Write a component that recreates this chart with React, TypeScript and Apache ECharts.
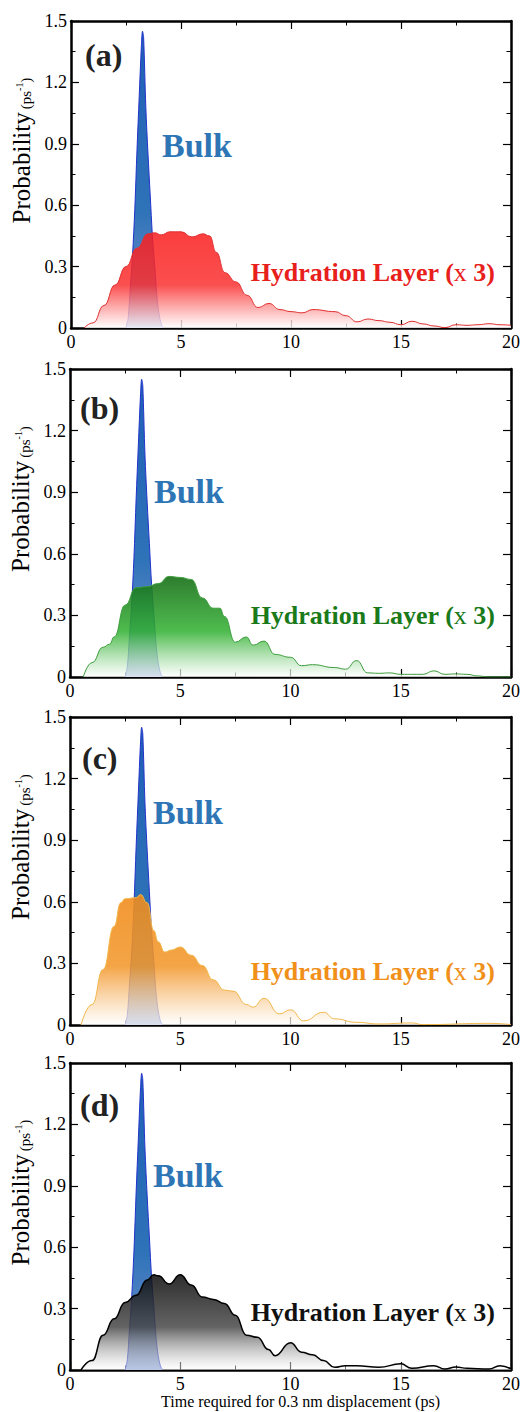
import React, { useEffect, useRef } from "react";
import * as echarts from "echarts";

// ---- data ----
const xTicks = [0, 5, 10, 15, 20];
const yTicks = [0, 0.3, 0.6, 0.9, 1.2, 1.5];
const panelLabels = ["(a)", "(b)", "(c)", "(d)"];
const bulkLabel = "Bulk";
const hydrationLabel = "Hydration Layer";
const hydrationScale = "x";
const hydrationFactor = "3";
const xAxisTitle = "Time required for 0.3 nm displacement (ps)";
const yAxisTitle = "Probability";
const yAxisUnit = "(ps";
const yAxisUnitSup = "-1";

const bulkTime = [2.5, 2.6, 2.7, 2.8, 2.9, 3.0, 3.1, 3.2, 3.25, 3.3, 3.4, 3.5, 3.6, 3.7, 3.8, 3.9, 4.0, 4.1, 4.2];
const bulkProb = [0, 0.05, 0.2, 0.36, 0.58, 0.87, 1.13, 1.38, 1.45, 1.42, 1.08, 0.85, 0.65, 0.45, 0.31, 0.16, 0.07, 0.02, 0];

const hydrationA: [number, number][] = [
  [0.6, 0], [1, 0.025], [1.5, 0.11], [2, 0.21], [2.5, 0.3], [3, 0.39], [3.5, 0.46], [3.8, 0.465],
  [4.1, 0.455], [4.5, 0.47], [5, 0.47], [5.5, 0.445], [6, 0.46], [6.3, 0.45], [6.6, 0.37], [7, 0.27],
  [7.5, 0.225], [8, 0.16], [8.5, 0.1], [9, 0.12], [9.5, 0.09], [10, 0.08], [10.5, 0.074], [11, 0.09],
  [12, 0.08], [12.5, 0.06], [13, 0.03], [13.5, 0.044], [14, 0.036], [14.5, 0.028], [15, 0.016],
  [15.5, 0.033], [16, 0.02], [16.5, 0.01], [17, 0.002], [17.5, 0.016], [18, 0.013], [18.5, 0.016],
  [19, 0.021], [19.5, 0.016], [20, 0.013],
];

const hydrationB: [number, number][] = [
  [0.6, 0], [1, 0.07], [1.5, 0.145], [1.8, 0.16], [2, 0.195], [2.5, 0.35], [3, 0.435], [3.5, 0.44],
  [4, 0.455], [4.5, 0.49], [5, 0.485], [5.5, 0.475], [6, 0.385], [6.5, 0.335], [6.8, 0.335], [7, 0.295],
  [7.5, 0.17], [8, 0.195], [8.3, 0.155], [8.8, 0.175], [9.3, 0.11], [10, 0.096], [10.5, 0.055],
  [11, 0.06], [12, 0.046], [12.5, 0.038], [13, 0.08], [13.5, 0.02], [14, 0.018], [14.5, 0.02],
  [15, 0.013], [16, 0.013], [16.5, 0.03], [17, 0.013], [17.5, 0.015], [18, 0.013], [18.5, 0.005],
  [19, 0], [20, 0],
];

const hydrationC: [number, number][] = [
  [0.5, 0], [1, 0.1], [1.5, 0.27], [2, 0.48], [2.3, 0.595], [2.5, 0.615], [3, 0.62], [3.2, 0.635],
  [3.5, 0.595], [3.8, 0.46], [4, 0.405], [4.3, 0.355], [4.6, 0.365], [5, 0.38], [5.5, 0.34], [6, 0.29],
  [6.5, 0.22], [7, 0.17], [7.4, 0.165], [8, 0.1], [8.3, 0.087], [8.8, 0.13], [9.5, 0.054], [10, 0.074],
  [10.6, 0.02], [11.5, 0.062], [12, 0.03], [13, 0.013], [14, 0.005], [15.5, 0.01], [16, 0.002],
  [19, 0.008], [20, 0.002],
];

const hydrationD: [number, number][] = [
  [0.5, 0], [1, 0.046], [1.5, 0.17], [2, 0.25], [2.5, 0.33], [3, 0.365], [3.5, 0.44], [3.8, 0.465],
  [4, 0.46], [4.5, 0.42], [5, 0.465], [5.5, 0.415], [6, 0.357], [6.5, 0.345], [7, 0.325], [7.5, 0.267],
  [8, 0.17], [8.5, 0.16], [9, 0.1], [9.3, 0.07], [10, 0.133], [10.5, 0.087], [11, 0.074], [11.5, 0.046],
  [12, 0.013], [12.5, 0.021], [13, 0.021], [14, 0.013], [15, 0.03], [15.5, 0.008], [16.5, 0.021],
  [17, 0.005], [17.5, 0.015], [18, 0.008], [19, 0.005], [19.5, 0.021], [20, 0.005],
];

const hydrationSets = [hydrationA, hydrationB, hydrationC, hydrationD];

// ---- styling / layout ----
const SERIF = "'Liberation Serif', 'Times New Roman', 'DejaVu Serif', serif";

const panels = [
  {
    grid: { left: 71, top: 21, width: 440, height: 307 },
    label: { x: 85, y: 55 }, bulk: { x: 162, y: 145 }, hyd: { x: 495, y: 272 },
    textColor: "#e8201c", lineColor: "#e03030", lineWidth: 1,
    stops: ["rgba(250,30,30,0.86)", "rgba(250,45,45,0.84)", "rgba(255,255,255,0.8)"],
  },
  {
    grid: { left: 70, top: 369, width: 441, height: 308 },
    label: { x: 80, y: 408 }, bulk: { x: 154, y: 491 }, hyd: { x: 495, y: 615 },
    textColor: "#1a7a1a", lineColor: "#3c9c3c", lineWidth: 1,
    stops: ["rgba(22,110,22,0.9)", "rgba(48,176,48,0.85)", "rgba(255,255,255,0.7)"],
  },
  {
    grid: { left: 70, top: 717, width: 441, height: 308 },
    label: { x: 82, y: 758 }, bulk: { x: 153, y: 812 }, hyd: { x: 495, y: 971 },
    textColor: "#f0901a", lineColor: "#f2b84a", lineWidth: 1,
    stops: ["rgba(240,140,28,0.9)", "rgba(242,150,40,0.86)", "rgba(255,255,255,0.7)"],
  },
  {
    grid: { left: 70, top: 1063, width: 441, height: 307 },
    label: { x: 80, y: 1105 }, bulk: { x: 153, y: 1175 }, hyd: { x: 495, y: 1312 },
    textColor: "#111111", lineColor: "#000000", lineWidth: 1.5,
    stops: ["rgba(12,12,12,0.86)", "rgba(70,70,70,0.84)", "rgba(255,255,255,0.45)"],
  },
];

function buildOption() {
  const grid: any[] = [];
  const xAxis: any[] = [];
  const yAxis: any[] = [];
  const series: any[] = [];
  const graphic: any[] = [];

  const axisLine = { show: true, onZero: false, lineStyle: { color: "#000", width: 2.5 } };
  const axisTick = { show: true, inside: true, length: 8, lineStyle: { color: "#000", width: 1.2 } };
  const minorTick = { show: true, splitNumber: 2, length: 4.5, lineStyle: { color: "#000", width: 1 } };

  panels.forEach((p, i) => {
    grid.push({ ...p.grid, containLabel: false, outerBoundsMode: "none" });
    const xBase = {
      type: "value", gridIndex: i, min: xTicks[0], max: xTicks[xTicks.length - 1],
      interval: xTicks[1] - xTicks[0], axisLine, axisTick, minorTick,
      splitLine: { show: false }, minorSplitLine: { show: false },
    };
    xAxis.push({
      ...xBase, position: "bottom",
      axisLabel: { color: "#000", fontFamily: SERIF, fontSize: 18, margin: 5 },
      ...(i === panels.length - 1
        ? {
            name: xAxisTitle, nameLocation: "middle", nameGap: 19,
            nameTextStyle: { color: "#000", fontFamily: SERIF, fontSize: 16, verticalAlign: "top", padding: [0, 0, 0, 20] },
          }
        : {}),
    });
    xAxis.push({ ...xBase, position: "top", axisLabel: { show: false } });

    const yBase = {
      type: "value", gridIndex: i, min: yTicks[0], max: yTicks[yTicks.length - 1],
      interval: yTicks[1] - yTicks[0], axisLine, axisTick, minorTick,
      splitLine: { show: false }, minorSplitLine: { show: false },
    };
    yAxis.push({
      ...yBase, position: "left",
      axisLabel: {
        color: "#000", fontFamily: SERIF, fontSize: 18, margin: 4,
        formatter: (v: number) => (v === 0 ? "0" : v.toFixed(1)),
      },
      name: `{pad|}{a|${yAxisTitle}} {b|${yAxisUnit}}{c|${yAxisUnitSup}}{b|)}`,
      nameLocation: "middle", nameRotate: 90, nameGap: 33,
      nameTextStyle: {
        color: "#000", fontFamily: SERIF,
        rich: {
          pad: { width: 48, fontSize: 25, lineHeight: 27 },
          a: { fontSize: 25, lineHeight: 27, fontFamily: SERIF, color: "#000", verticalAlign: "bottom" },
          b: { fontSize: 15, lineHeight: 18, fontFamily: SERIF, color: "#000", verticalAlign: "bottom" },
          c: { fontSize: 10, lineHeight: 12, fontFamily: SERIF, color: "#000", verticalAlign: "bottom", padding: [0, 0, 9, 0] },
        },
      },
    });
    yAxis.push({ ...yBase, position: "right", axisLabel: { show: false } });

    series.push({
      type: "line", xAxisIndex: 2 * i, yAxisIndex: 2 * i, z: 2,
      data: bulkTime.map((t, k) => [t, bulkProb[k]]),
      smooth: 0.3, symbol: "none", showSymbol: false,
      lineStyle: { color: "#2233cc", width: 1 },
      areaStyle: {
        color: new echarts.graphic.LinearGradient(0, 0, 0, 1, [
          { offset: 0, color: "#1f5fb6" },
          { offset: 0.6, color: "#2e72b8" },
          { offset: 1, color: "#7f97d0" },
        ]),
        opacity: 1,
      },
    });
    series.push({
      type: "line", xAxisIndex: 2 * i, yAxisIndex: 2 * i, z: 3,
      data: hydrationSets[i], smooth: 0.5, smoothMonotone: "x", symbol: "none", showSymbol: false,
      lineStyle: { color: p.lineColor, width: p.lineWidth },
      areaStyle: {
        color: new echarts.graphic.LinearGradient(0, 0, 0, 1, [
          { offset: 0, color: p.stops[0] },
          { offset: 0.55, color: p.stops[1] },
          { offset: 1, color: p.stops[2] },
        ]),
        opacity: 1,
      },
    });

    graphic.push({
      type: "text", z: 100,
      style: {
        text: panelLabels[i], x: p.label.x, y: p.label.y, fill: "#222",
        fontFamily: SERIF, fontSize: 32, fontWeight: "bold",
        align: "left", verticalAlign: "middle", textAlign: "left", textVerticalAlign: "middle",
      },
    });
    graphic.push({
      type: "text", z: 100,
      style: {
        text: bulkLabel, x: p.bulk.x, y: p.bulk.y, fill: "#2e75b6",
        fontFamily: SERIF, fontSize: 34, fontWeight: "bold",
        align: "left", verticalAlign: "middle", textAlign: "left", textVerticalAlign: "middle",
      },
    });
    graphic.push({
      type: "text", z: 100,
      style: {
        text: `{b|${hydrationLabel} (}{n|${hydrationScale}}{b| ${hydrationFactor})}`,
        x: p.hyd.x, y: p.hyd.y, fill: p.textColor,
        fontFamily: SERIF, fontSize: 26, fontWeight: "bold",
        align: "right", verticalAlign: "middle", textAlign: "right", textVerticalAlign: "middle",
        rich: {
          b: { fontFamily: SERIF, fontSize: 26, fontWeight: "bold", fill: p.textColor, color: p.textColor },
          n: { fontFamily: SERIF, fontSize: 26, fontWeight: "normal", fill: p.textColor, color: p.textColor },
        },
      },
    });
  });

  return { animation: false, backgroundColor: "#fff", grid, xAxis, yAxis, series, graphic };
}

export default function App() {
  const ref = useRef<HTMLDivElement>(null);
  useEffect(() => {
    if (!ref.current) return;
    const chart = echarts.init(ref.current, undefined, { renderer: "svg" });
    chart.setOption(buildOption() as any);
    return () => chart.dispose();
  }, []);
  return (
    <div
      ref={ref}
      style={{ position: "absolute", left: 0, top: 0, width: 522, height: 1412, background: "#fff" }}
    />
  );
}
